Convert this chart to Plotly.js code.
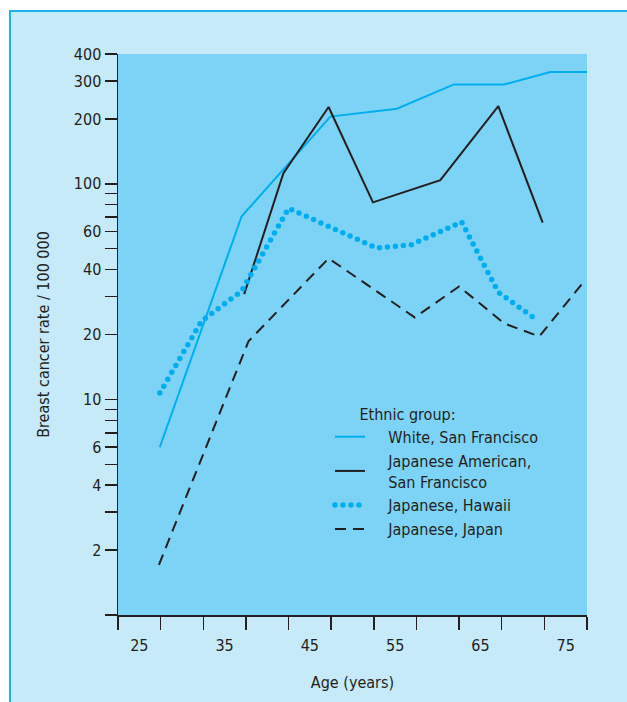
<!DOCTYPE html>
<html>
<head>
<meta charset="utf-8">
<script src="https://cdn.plot.ly/plotly-3.0.1.min.js"></script>
<style>
  html, body { margin: 0; padding: 0; background: #ffffff; }
  #wrap { position: absolute; left: 9px; top: 10px; width: 618px; height: 692px;
          border-left: 2px solid #1ab2ec; border-top: 2px solid #1ab2ec; background: #c7eaf9; }
  #chart { width: 618px; height: 692px; }
</style>
</head>
<body>
<div id="wrap"><div id="chart"></div></div>
<script>
// Age (years) and breast cancer rate per 100 000
const agesWhite = [27.4, 37.0, 47.4, 55.2, 61.9, 67.8, 73.2, 77.5];
const rateWhite = [6.0, 70.7, 205, 223, 289, 289, 330, 330];

const agesJpAm = [37.3, 41.9, 47.2, 52.4, 60.3, 67.1, 72.3];
const rateJpAm = [30.8, 112, 227, 82, 104, 229, 66];

const agesHawaii = [27.4, 32.3, 37.0, 42.5, 52.8, 56.9, 62.8, 67.1, 71.4];
const rateHawaii = [10.7, 23.1, 31.8, 77, 50.4, 52.2, 66.5, 31.4, 23.7];

const agesJapan = [27.3, 37.8, 47.2, 57.3, 62.5, 67.8, 71.9, 77.3];
const rateJapan = [1.71, 18.6, 45.1, 24.0, 33.4, 22.5, 19.6, 35.8];

const seriesNames = ["White, San Francisco", "Japanese American,<br>San Francisco", "Japanese, Hawaii", "Japanese, Japan"];
const legendTitle = "Ethnic group:";

const xLabelVals = [25, 35, 45, 55, 65, 75];
const xTickVals = [22.5, 27.5, 32.5, 37.5, 42.5, 47.5, 52.5, 57.5, 62.5, 67.5, 72.5, 77.5];
const yTickVals = [1, 2, 3, 4, 5, 6, 7, 8, 9, 10, 20, 30, 40, 50, 60, 70, 80, 90, 100, 200, 300, 400];
const yTickText = ["", "2", "", "4", "", "6", "", "", "", "10", "20", "", "40", "", "60", "", "", "", "100", "200", "300", "400"];

const FONT = '"Liberation Sans Narrow", "Arial Narrow", "DejaVu Sans Condensed", sans-serif';
const INK = '#231f20';
const CYAN = '#00aeef';
const pad = '\u00a0\u00a0\u00a0\u00a0';

const traces = [
  { x: agesWhite, y: rateWhite, name: pad + seriesNames[0], mode: 'lines',
    line: { color: CYAN, width: 2 } },
  { x: agesJpAm, y: rateJpAm, name: pad + seriesNames[1].replace('<br>', '<br>' + pad), mode: 'lines',
    line: { color: INK, width: 2 } },
  { x: agesHawaii, y: rateHawaii, name: pad + seriesNames[2], mode: 'lines',
    line: { color: CYAN, width: 5.5, dash: '0px,8px' } },
  { x: agesJapan, y: rateJapan, name: pad + seriesNames[3], mode: 'lines',
    line: { color: INK, width: 2, dash: '11px,7px' } }
];

const layout = {
  width: 618, height: 692,
  margin: { l: 107, r: 42, t: 42, b: 89 },
  paper_bgcolor: '#c7eaf9',
  plot_bgcolor: '#7dd3f5',
  font: { family: FONT, size: 16, color: INK },
  showlegend: true,
  legend: {
    x: 0.452, y: 0.385, xanchor: 'left', yanchor: 'top',
    bgcolor: 'rgba(0,0,0,0)', borderwidth: 0,
    font: { family: FONT, size: 16, color: INK },
    title: { text: '\u00a0\u00a0\u00a0\u00a0\u00a0\u00a0' + legendTitle, font: { family: FONT, size: 16, color: INK } },
    tracegroupgap: 0
  },
  xaxis: {
    range: [22.5, 77.5],
    tickmode: 'array', tickvals: xLabelVals, ticktext: xLabelVals.map(String),
    ticks: '', ticklabelstandoff: 15,
    minor: { tickmode: 'array', tickvals: xTickVals, ticks: 'outside', ticklen: 13, tickwidth: 1.5, tickcolor: INK, showgrid: false },
    showline: true, linecolor: INK, linewidth: 1.5,
    showgrid: false, zeroline: false,
    tickfont: { family: FONT, size: 16, color: INK },
    title: { text: 'Age (years)', font: { family: FONT, size: 16, color: INK }, standoff: 23 }
  },
  yaxis: {
    type: 'log', range: [0, Math.log10(400)],
    tickmode: 'array', tickvals: yTickVals, ticktext: yTickText,
    ticks: 'outside', ticklen: 12, tickwidth: 1.5, tickcolor: INK,
    showline: true, linecolor: INK, linewidth: 1.5,
    showgrid: false, zeroline: false,
    tickfont: { family: FONT, size: 16, color: INK },
    title: { text: 'Breast cancer rate / 100 000', font: { family: FONT, size: 16, color: INK }, standoff: 20 }
  }
};

Plotly.newPlot('chart', traces, layout, { displayModeBar: false, staticPlot: true }).then(function () {
  document.querySelectorAll('path.js-line').forEach(function (p) {
    const d = p.style.strokeDasharray || '';
    if (/^0(px)?[ ,]/.test(d)) p.style.strokeLinecap = 'round';
  });
});
</script>
</body>
</html>
